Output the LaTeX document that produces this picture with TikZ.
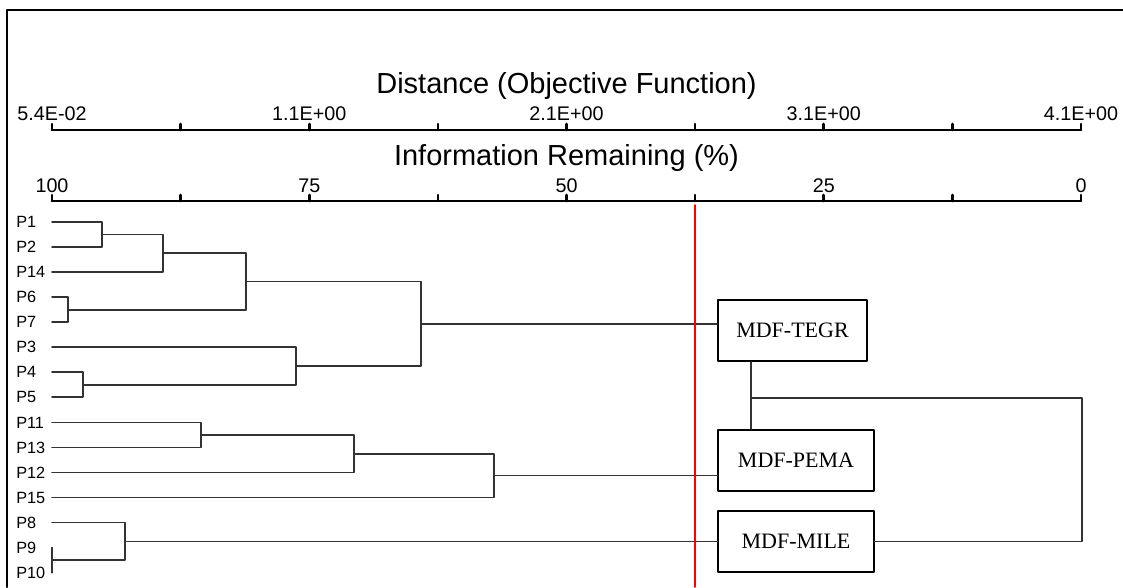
\documentclass[tikz,border=0pt]{standalone}
\usepackage{fontspec}
\setmainfont{Liberation Sans}
\newfontfamily\boxfont{Liberation Serif}
\begin{document}
\begin{tikzpicture}[x=0.75pt, y=-0.75pt, line join=round, line cap=round,
	tree/.style={line width=1.3pt, black!80},
	axis/.style={line width=1.9pt},
	leaf/.style={anchor=west, inner sep=0pt, font=\fontsize{12.2}{13}\selectfont},
	ticklab/.style={anchor=base, inner sep=0pt, font=\fontsize{14.8}{16}\selectfont},
	title/.style={anchor=base, inner sep=0pt, font=\fontsize{21.75}{24}\selectfont},
	group/.style={draw, line width=1.5pt, inner sep=0pt, minimum width=117pt, minimum height=45.75pt, font=\boxfont\fontsize{16.5}{18}\selectfont}]
		\useasboundingbox (0,0) rectangle (1123,587);
		\draw[line width=1.5pt] (7,587) -- (7,10) -- (1123,10);
		% axes
		\def\xl{52} \def\dx{128.625}
		\node[title] (dist) at (566.5,93) {Distance (Objective Function)};
		\node[title] (info) at (566.5,165) {Information Remaining (\%)};
		\draw[axis] (\xl,130) -- (1081,130);
		\draw[axis] (\xl,201) -- (1081,201);
		\foreach \i in {0,...,8} {
			\draw[axis] (\xl+\dx*\i,130) -- ++(0,-6);
			\draw[axis] (\xl+\dx*\i,201) -- ++(0,-6);
		}
		\foreach \lab/\pct [count=\i from 0] in {5.4E-02/100, 1.1E+00/75, 2.1E+00/50, 3.1E+00/25, 4.1E+00/0} {
			\node[ticklab] (d\i) at (\xl+2*\dx*\i,120) {\lab};
			\node[ticklab] (r\i) at (\xl+2*\dx*\i,192) {\pct};
		}
		% leaves
		\foreach \p [count=\i from 0] in {P1,P2,P14,P6,P7,P3,P4,P5,P11,P13,P12,P15,P8,P9,P10} {
			\node[leaf] (\p) at (16,222+25.05*\i) {\p};
			\coordinate (l\p) at (52,222+25.05*\i);
		}
		% merges
		\coordinate (a12) at (102,234.5);
		\coordinate (a1214) at (163,253.3);
		\coordinate (a67) at (68,309.7);
		\coordinate (aA) at (246,281.5);
		\coordinate (a45) at (83,384.8);
		\coordinate (a345) at (296,366);
		\coordinate (aTEGR) at (421,323.8);
		\coordinate (a1113) at (201,434.9);
		\coordinate (a1213) at (354,453.7);
		\coordinate (aPEMA) at (494,475.6);
		\coordinate (a910) at (52,560.2);
		\coordinate (aMILE) at (125,541.4);
		\draw[tree] (lP1) -| (a12) |- (lP2);
		\draw[tree] (a12) -| (a1214) |- (lP14);
		\draw[tree] (lP6) -| (a67) |- (lP7);
		\draw[tree] (a1214) -| (aA) |- (a67);
		\draw[tree] (lP4) -| (a45) |- (lP5);
		\draw[tree] (lP3) -| (a345) |- (a45);
		\draw[tree] (aA) -| (aTEGR) |- (a345);
		\draw[tree] (lP11) -| (a1113) |- (lP13);
		\draw[tree] (a1113) -| (a1213) |- (lP12);
		\draw[tree] (a1213) -| (aPEMA) |- (lP15);
		\draw[tree] (lP9) -- (lP10);
		\draw[tree] (lP8) -| (aMILE) |- (a910);
		% groups
		\node[group, minimum width=111.75pt] (tegr) at (792.5,330.5) {MDF-TEGR};
		\node[group] (pema) at (796,460.5) {MDF-PEMA};
		\node[group] (mile) at (796,541.4) {MDF-MILE};
		\draw[tree] (aTEGR) -- (aTEGR -| tegr.west);
		\draw[tree] (aPEMA) -- (aPEMA -| pema.west);
		\draw[tree] (aMILE) -- (mile.west);
		\coordinate (aRoot) at (751,398);
		\coordinate (aTop) at (1082,398);
		\draw[tree] (tegr.south -| aRoot) -- (pema.north -| aRoot);
		\draw[tree] (aRoot) -- (aTop) |- (mile.east);
		\draw[red, line width=1.3pt] (695,205) -- (695,587);
	\end{tikzpicture}
\end{document}
